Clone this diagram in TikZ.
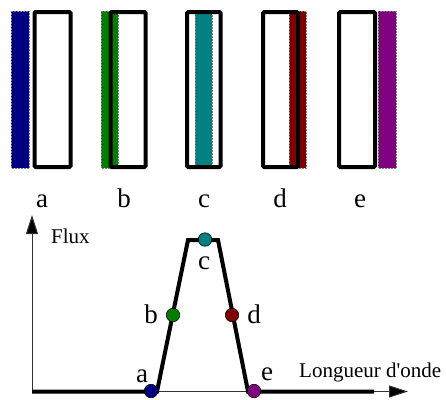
\documentclass[tikz,border=0pt]{standalone}
\usepackage{fontspec}
\setmainfont{Liberation Serif}
\usetikzlibrary{arrows.meta}
\definecolor{cA}{RGB}{0,0,128}
\definecolor{cB}{RGB}{0,128,0}
\definecolor{cC}{RGB}{0,128,128}
\definecolor{cD}{RGB}{128,0,0}
\definecolor{cE}{RGB}{128,0,128}
\definecolor{axisgray}{RGB}{50,50,50}
\tikzset{
  filt/.style={draw=black!50, densely dotted, line width=0.5pt},
  cell/.style={draw=black, line width=4pt, rounded corners=1.2pt},
  lbl/.style={font=\fontsize{27}{30}\selectfont, anchor=base, inner sep=0pt},
  axlbl/.style={font=\fontsize{21}{24}\selectfont, anchor=base west, inner sep=0pt},
  axisline/.style={draw=axisgray, line width=1pt, -{Triangle[length=19pt,width=12pt,fill=black]}},
  curve/.style={draw=black, line width=4pt, line join=miter},
  pt/.style={circle, draw=black, line width=0.6pt, minimum size=13.5pt, inner sep=0pt}
}
\begin{document}
\begin{tikzpicture}[x=1pt,y=-1pt]
\useasboundingbox (0,0) rectangle (446,399);
% filters
\fill[cA] (11,11) rectangle (29,168); \draw[filt] (11,11) rectangle (29,168);
\fill[cB] (101,11) rectangle (118,168); \draw[filt] (101,11) rectangle (118,168);
\fill[cC] (195,11) rectangle (212,168); \draw[filt] (195,11) rectangle (212,168);
\fill[cD] (289,11) rectangle (306,168); \draw[filt] (289,11) rectangle (306,168);
\fill[cE] (378,11) rectangle (396,168); \draw[filt] (378,11) rectangle (396,168);
% cells
\draw[cell] (34.5,12) rectangle (70.5,167);
\draw[cell] (110.5,12) rectangle (145.5,167);
\draw[cell] (187,12) rectangle (220.5,167);
\draw[cell] (263,12) rectangle (298,167);
\draw[cell] (339,12) rectangle (375,167);
% top labels
\node[lbl] (la) at (42,207) {a};
\node[lbl] (lb) at (124,207) {b};
\node[lbl] (lc) at (204,207) {c};
\node[lbl] (ld) at (280,207) {d};
\node[lbl] (le) at (360,207) {e};
% axes
\coordinate (O) at (32,391.5);
\coordinate (Ytip) at (32,215);
\coordinate (Xtip) at (408,391.5);
\draw[axisline] (O) -- (Ytip);
\draw[axisline] (O) -- (Xtip);
% curve
\coordinate (k1) at (157,391.5);
\coordinate (k2) at (188,240);
\coordinate (k3) at (218,240);
\coordinate (k4) at (248,391.5);
\coordinate (k5) at (374,391.5);
\draw[curve] (O) -- (k1) -- (k2) -- (k3) -- (k4) -- (k5);
% points
\node[pt, fill=cA] (pa) at (151,391) {};
\node[pt, fill=cB] (pb) at (173,315) {};
\node[pt, fill=cC] (pc) at (205,239.5) {};
\node[pt, fill=cD] (pd) at (232,315) {};
\node[pt, fill=cE] (pe) at (254,391) {};
% graph labels
\node[axlbl] (flux) at (51,243) {Flux};
\node[axlbl] (lo) at (299,377) {Longueur d\textquotesingle onde};
\node[lbl] (ga) at (142,382) {a};
\node[lbl] (gb) at (151,323) {b};
\node[lbl] (gc) at (204,269) {c};
\node[lbl] (gd) at (254,323) {d};
\node[lbl] (ge) at (267,380) {e};
\end{tikzpicture}
\end{document}
